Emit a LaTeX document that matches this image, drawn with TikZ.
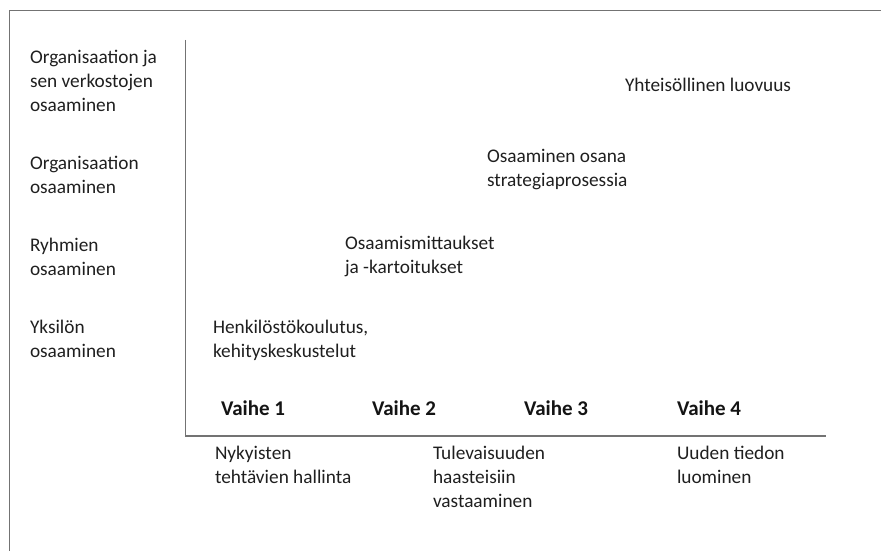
\documentclass[tikz,border=0pt]{standalone}
\usepackage{fontspec}
\setmainfont{Carlito}
\begin{document}
\begin{tikzpicture}[x=1pt,y=-1pt,
  framestyle/.style={draw=black!55,line width=1.3pt},
  axisstyle/.style={draw=black!55,line width=1.4pt},
  lbl/.style={anchor=base west,inner sep=0pt,outer sep=0pt,align=left,
    text=black!88,font=\fontsize{19.3}{24}\selectfont},
  phase/.style={anchor=base west,inner sep=0pt,outer sep=0pt,
    text=black!92,font=\fontsize{21}{24}\selectfont\bfseries}]
\useasboundingbox (0,0) rectangle (881,551);
% outer frame (top and left edges)
\coordinate (fTL) at (9.5,10.5);
\coordinate (fTR) at (881,10.5);
\coordinate (fBL) at (9.5,551);
\draw[framestyle] (fBL) -- (fTL) -- (fTR);
% axes
\coordinate (yTop) at (185.5,40);
\coordinate (origin) at (185.5,436);
\coordinate (xEnd) at (826,436);
\draw[axisstyle] (yTop) -- (origin) -- (xEnd);
% levels of competence (anchored at the baseline of the last line)
\node[lbl] (l4) at (30,111) {Organisaation ja\\sen verkostojen\\osaaminen};
\node[lbl] (l3) at (30,193) {Organisaation\\osaaminen};
\node[lbl] (l2) at (30,275) {Ryhmien\\osaaminen};
\node[lbl] (l1) at (30,357) {Yksilön\\osaaminen};
% practices
\node[lbl] (p1) at (213,357) {Henkilöstökoulutus,\\kehityskeskustelut};
\node[lbl] (p2) at (345,273) {Osaamismittaukset\\ja -kartoitukset};
\node[lbl] (p3) at (487,186) {Osaaminen osana\\strategiaprosessia};
\node[lbl] (p4) at (625,92) {Yhteisöllinen luovuus};
% phases
\node[phase] (v1) at (221,415) {Vaihe 1};
\node[phase] (v2) at (372,415) {Vaihe 2};
\node[phase] (v3) at (524,415) {Vaihe 3};
\node[phase] (v4) at (677,415) {Vaihe 4};
% goals
\node[lbl] (g1) at (215,483) {Nykyisten\\tehtävien hallinta};
\node[lbl] (g2) at (433,507) {Tulevaisuuden\\haasteisiin\\vastaaminen};
\node[lbl] (g3) at (677,483) {Uuden tiedon\\luominen};
\end{tikzpicture}
\end{document}
